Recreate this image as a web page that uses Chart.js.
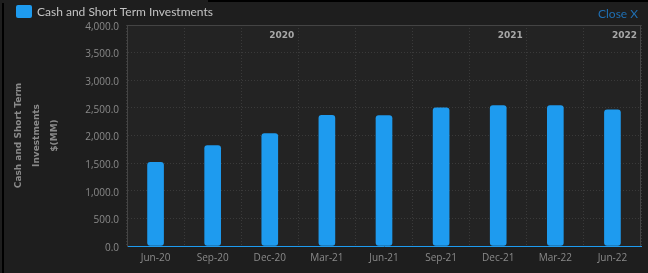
<!DOCTYPE html>
<html>
<head>
<meta charset="utf-8">
<script src="https://cdn.jsdelivr.net/npm/chart.js@4/dist/chart.umd.min.js"></script>
<style>
  html, body { margin: 0; padding: 0; background: #1e1e1e; }
  #wrap { position: relative; width: 648px; height: 273px; overflow: hidden; }
  #chart { position: absolute; left: 0; top: 0; }
  .edge-left { position: absolute; left: 2px; top: 3px; width: 2px; height: 270px; background: #000; }
  .edge-top { position: absolute; left: 208px; top: 0; width: 440px; height: 2px; background: #000; }
  .legend { position: absolute; left: 16px; top: 4px; font: 12px Lato, sans-serif; color: #c4c4c4; display: flex; align-items: center; }
  .legend .box { width: 16px; height: 13px; background: #1e9bef; border-radius: 2px; margin-right: 5px; }
  .close { position: absolute; left: 598px; top: 6px; font: 12px Lato, sans-serif; color: #1f6fb3; }
</style>
</head>
<body>
<div id="wrap">
  <canvas id="chart" width="648" height="273"></canvas>
  <div class="edge-left"></div>
  <div class="edge-top"></div>
  <div class="legend"><span class="box"></span>Cash and Short Term Investments</div>
  <div class="close">Close X</div>
</div>
<script>
const quarters = ['Jun-20', 'Sep-20', 'Dec-20', 'Mar-21', 'Jun-21', 'Sep-21', 'Dec-21', 'Mar-22', 'Jun-22'];
const cashValues = [1515, 1818, 2036, 2364, 2360, 2500, 2540, 2540, 2464];
const yearMarks = ['', '', '2020', '', '', '', '2021', '', '2022'];
const yTicks = [0, 500, 1000, 1500, 2000, 2500, 3000, 3500, 4000];

// plot background + borders + year labels
const decorations = {
    id: 'decorations',
    beforeDraw(chart) {
        const { ctx, chartArea: a } = chart;
        ctx.save();
        ctx.fillStyle = '#232323';
        ctx.fillRect(a.left, a.top, a.right - a.left, a.bottom - a.top);
        ctx.restore();
    },
    afterDraw(chart) {
        const { ctx, chartArea: a } = chart;
        const x = chart.scales.x;
        ctx.save();
        ctx.strokeStyle = '#444';
        ctx.lineWidth = 1;
        ctx.beginPath();
        ctx.moveTo(a.left, a.top + 0.5);
        ctx.lineTo(a.right, a.top + 0.5);
        ctx.moveTo(a.right - 0.5, a.top);
        ctx.lineTo(a.right - 0.5, a.bottom);
        ctx.stroke();
        ctx.font = 'bold 9px "DejaVu Sans"';
        ctx.fillStyle = '#a8a8a8';
        ctx.textAlign = 'right';
        ctx.textBaseline = 'middle';
        const half = (x.getPixelForValue(1) - x.getPixelForValue(0)) / 2;
        yearMarks.forEach((yr, i) => {
            if (yr) ctx.fillText(yr, x.getPixelForValue(i) + half - 4, a.top + 11);
        });
        ctx.restore();
    }
};

const ctx = document.getElementById('chart').getContext('2d');
const cashChart = new Chart(ctx, {
    type: 'bar',
    data: {
        labels: quarters,
        datasets: [{
            label: 'Cash and Short Term Investments',
            data: cashValues,
            backgroundColor: '#1e9bef',
            barThickness: 16,
            borderRadius: 3,
            borderSkipped: false
        }]
    },
    options: {
        responsive: false,
        animation: false,
        devicePixelRatio: 1,
        layout: { padding: { top: 25, right: 7, left: 0, bottom: 0 } },
        plugins: {
            legend: { display: false },
            tooltip: { enabled: false }
        },
        scales: {
            x: {
                grid: { color: '#3a3a3a', drawTicks: false, offset: true },
                border: { display: true, color: '#1e9bef', width: 1, dash: [1, 2] },
                ticks: {
                    color: '#8a8a8a',
                    padding: 6,
                    font: { family: 'Open Sans', size: 10 },
                    maxRotation: 0,
                    autoSkip: false
                },
                afterFit(scale) { scale.height = 27; }
            },
            y: {
                min: 0,
                max: 4000,
                afterBuildTicks(scale) { scale.ticks = yTicks.map(v => ({ value: v })); },
                grid: { color: '#3a3a3a', drawTicks: false },
                border: { display: true, color: '#444', width: 1, dash: [1, 2] },
                ticks: {
                    color: '#8a8a8a',
                    padding: 8,
                    labelOffset: 2,
                    font: { family: 'Open Sans', size: 10 },
                    callback: v => v.toLocaleString('en-US', { minimumFractionDigits: 1, maximumFractionDigits: 1 })
                },
                title: {
                    display: true,
                    text: ['Cash and Short Term', 'Investments', '$(MM)'],
                    color: '#8a8a8a',
                    font: { family: 'DejaVu Sans', size: 9, weight: 'bold', lineHeight: 2 },
                    padding: { top: 10, bottom: 0 }
                },
                afterFit(scale) { scale.width = 127; }
            }
        }
    },
    plugins: [decorations]
});
</script>
</body>
</html>
